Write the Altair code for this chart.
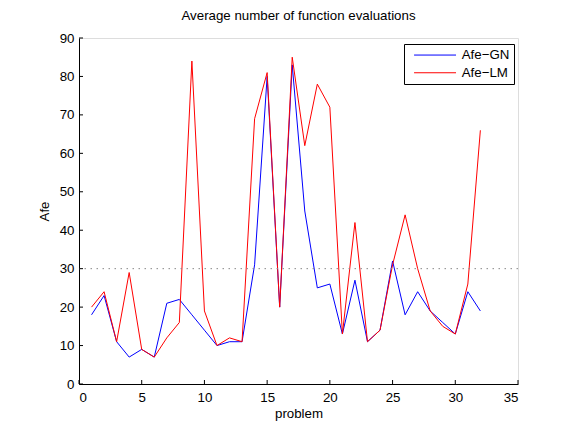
import altair as alt
import pandas as pd

problems = list(range(1, 33))
afe_gn = [18, 23, 11, 7, 9, 7, 21, 22, 18, 14, 10, 11, 11, 31, 80, 20, 83, 45, 25, 26,
          13, 27, 11, 14, 32, 18, 24, 19, 16, 13, 24, 19]
afe_lm = [20, 24, 11, 29, 9, 7, 12, 16, 84, 19, 10, 12, 11, 69, 81, 20, 85, 62, 78, 72,
          13, 42, 11, 14, 31, 44, 30, 19, 15, 13, 26, 66]
series_names = ["Afe\u2212GN", "Afe\u2212LM"]
series_colors = ["#0000ff", "#ff0000"]
ref_level = [30]
x_ticks = [0, 5, 10, 15, 20, 25, 30, 35]
y_ticks = [0, 10, 20, 30, 40, 50, 60, 70, 80, 90]

W, H = 439, 346
FONT = "Liberation Sans"
FS = 13.3

rows = []
for p, g, l in zip(problems, afe_gn, afe_lm):
    rows.append({"problem": p, "Afe": g, "series": series_names[0]})
    rows.append({"problem": p, "Afe": l, "series": series_names[1]})
df = pd.DataFrame(rows)

xscale = alt.Scale(domain=[0, 35], nice=False, zero=False)
yscale = alt.Scale(domain=[0, 90], nice=False, zero=False)

x_axis = alt.Axis(title="problem", values=x_ticks, ticks=False, grid=False,
                  domainColor="black", labelColor="black", labelFontSize=FS,
                  labelPadding=6, titleFontSize=FS, titleFontWeight="normal",
                  titleColor="black", titlePadding=3, labelFont=FONT, titleFont=FONT,
                  labelOverlap=False)
y_axis = alt.Axis(title="Afe", values=y_ticks, ticks=False, grid=False,
                  domainColor="black", labelColor="black", labelFontSize=FS,
                  labelPadding=5, titleFontSize=FS, titleFontWeight="normal",
                  titleColor="black", titlePadding=8, labelFont=FONT, titleFont=FONT,
                  labelOverlap=False)

lines = alt.Chart(df).mark_line(strokeWidth=1).encode(
    x=alt.X("problem:Q", scale=xscale, axis=x_axis),
    y=alt.Y("Afe:Q", scale=yscale, axis=y_axis),
    color=alt.Color("series:N",
                    scale=alt.Scale(domain=series_names, range=series_colors),
                    legend=alt.Legend(title=None, orient="none", legendX=325, legendY=6,
                                      symbolType="M-4,0H4", symbolSize=110,
                                      symbolStrokeWidth=1, symbolOffset=20,
                                      strokeColor="black",
                                      fillColor="white", padding=4.4, labelFontSize=FS,
                                      labelFont=FONT, labelColor="black", rowPadding=3.7,
                                      labelOffset=20)),
    order="problem:Q",
)

ref = alt.Chart(pd.DataFrame({"Afe": ref_level})).mark_rule(
    color="#888888", strokeDash=[1.5, 4.5], strokeWidth=1
).encode(y=alt.Y("Afe:Q", scale=yscale, axis=y_axis))

xt = alt.Chart(pd.DataFrame({"problem": x_ticks})).mark_rule(color="black", strokeWidth=1).encode(
    x=alt.X("problem:Q", scale=xscale, axis=x_axis), y=alt.value(H - 4), y2=alt.value(H))
yt = alt.Chart(pd.DataFrame({"Afe": y_ticks})).mark_rule(color="black", strokeWidth=1).encode(
    y=alt.Y("Afe:Q", scale=yscale, axis=y_axis), x=alt.value(0), x2=alt.value(4))

chart = alt.layer(lines, ref, xt, yt).properties(
    width=W, height=H,
    title=alt.TitleParams("Average number of function evaluations", fontSize=FS,
                          fontWeight="normal", font=FONT, color="black", anchor="middle",
                          offset=9),
    autosize=alt.AutoSizeParams(type="none"),
    padding={"left": 71, "top": 30, "right": 30, "bottom": 40},
).configure_view(stroke=None).configure(background="white")

chart.save("out.html", embed_options={"renderer": "svg", "actions": False})
